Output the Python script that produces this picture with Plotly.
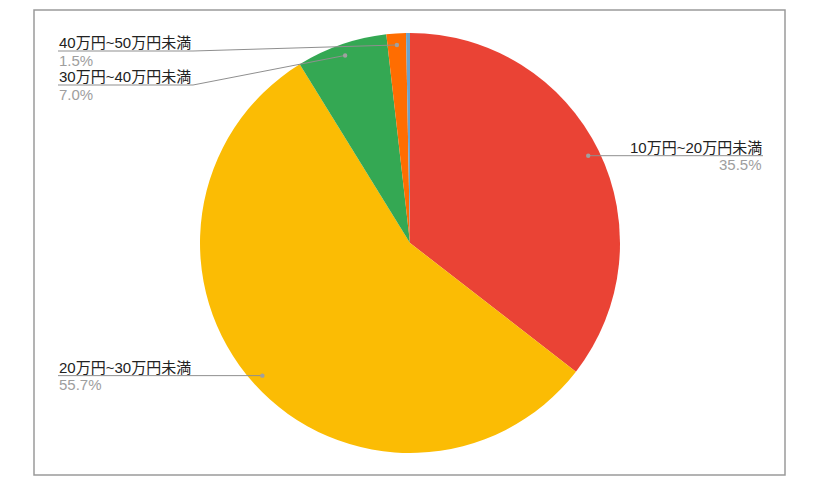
import math
import plotly.graph_objects as go

# data (percent), clockwise from 12 o'clock
categories = ["10万円~20万円未満", "20万円~30万円未満", "30万円~40万円未満", "40万円~50万円未満", "50万円以上"]
shares = [35.5, 55.7, 7.0, 1.5, 0.3]
colors = ["#EA4335", "#FBBC04", "#34A853", "#FF6D01", "#6AA3CC"]

# page body has an 8px margin, so work in window pixels and shift
OFF = 8
W, H = 818 - 2 * OFF, 495 - 2 * OFF
CX, CY, R = 410, 243, 210     # pie centre / radius in window px
DOT_R = 0.945 * R

# which slices get a callout: side, y of the text line (None = level with the dot)
callouts = {
    0: ("right", None),
    1: ("left", None),
    2: ("left", 85),
    3: ("left", 51),
}
LEFT_X, ELBOW_X, RIGHT_X = 58, 193, 763


def px(x):
    return (x - OFF) / W


def py(y):
    return 1 - (y - OFF) / H


fig = go.Figure(go.Pie(
    labels=categories,
    values=shares,
    sort=False,
    direction="clockwise",
    rotation=0,
    marker=dict(colors=colors, line=dict(width=0)),
    textinfo="none",
    hoverinfo="label+percent",
    domain=dict(x=[px(CX - R), px(CX + R)], y=[py(CY + R), py(CY - R)]),
    showlegend=False,
))

shapes = [dict(type="rect", xref="paper", yref="paper",
               x0=px(34), x1=px(785), y0=py(475), y1=py(10),
               line=dict(color="#9a9a9a", width=1.5))]
annotations = []

total = sum(shares)
cum = 0
for i, v in enumerate(shares):
    mid = (cum + v / 2) / total * 2 * math.pi
    cum += v
    if i not in callouts:
        continue
    side, line_y = callouts[i]
    dx = CX + DOT_R * math.sin(mid)
    dy = CY - DOT_R * math.cos(mid)
    if line_y is None:
        line_y = dy

    if side == "right":
        pts = [(dx, dy), (RIGHT_X, line_y)]
        tx, xanchor = RIGHT_X, "right"
    else:
        pts = [(dx, dy), (ELBOW_X, line_y), (LEFT_X, line_y)] if abs(dy - line_y) > 1 else [(dx, dy), (LEFT_X, line_y)]
        tx, xanchor = LEFT_X, "left"

    for (x0, y0), (x1, y1) in zip(pts[:-1], pts[1:]):
        shapes.append(dict(type="line", xref="paper", yref="paper",
                           x0=px(x0), y0=py(y0), x1=px(x1), y1=py(y1),
                           line=dict(color="#8f8f8f", width=1)))
    shapes.append(dict(type="circle", xref="paper", yref="paper",
                       x0=px(dx - 2.2), x1=px(dx + 2.2), y0=py(dy + 2.2), y1=py(dy - 2.2),
                       fillcolor="#a0a0a0", line=dict(width=0)))

    annotations.append(dict(x=px(tx), y=py(line_y - 8.5), xref="paper", yref="paper",
                            text=categories[i], showarrow=False,
                            xanchor=xanchor, yanchor="middle", borderpad=0,
                            font=dict(size=15, color="#222222")))
    annotations.append(dict(x=px(tx), y=py(line_y + 9), xref="paper", yref="paper",
                            text=f"{v:.1f}%", showarrow=False,
                            xanchor=xanchor, yanchor="middle", borderpad=0,
                            font=dict(size=15, color="#9e9e9e")))

fig.update_layout(
    width=W, height=H,
    margin=dict(l=0, r=0, t=0, b=0),
    paper_bgcolor="white",
    font=dict(family="'Liberation Sans', Arial, 'Noto Sans CJK JP', sans-serif"),
    shapes=shapes,
    annotations=annotations,
)

fig.write_html("out.html")
